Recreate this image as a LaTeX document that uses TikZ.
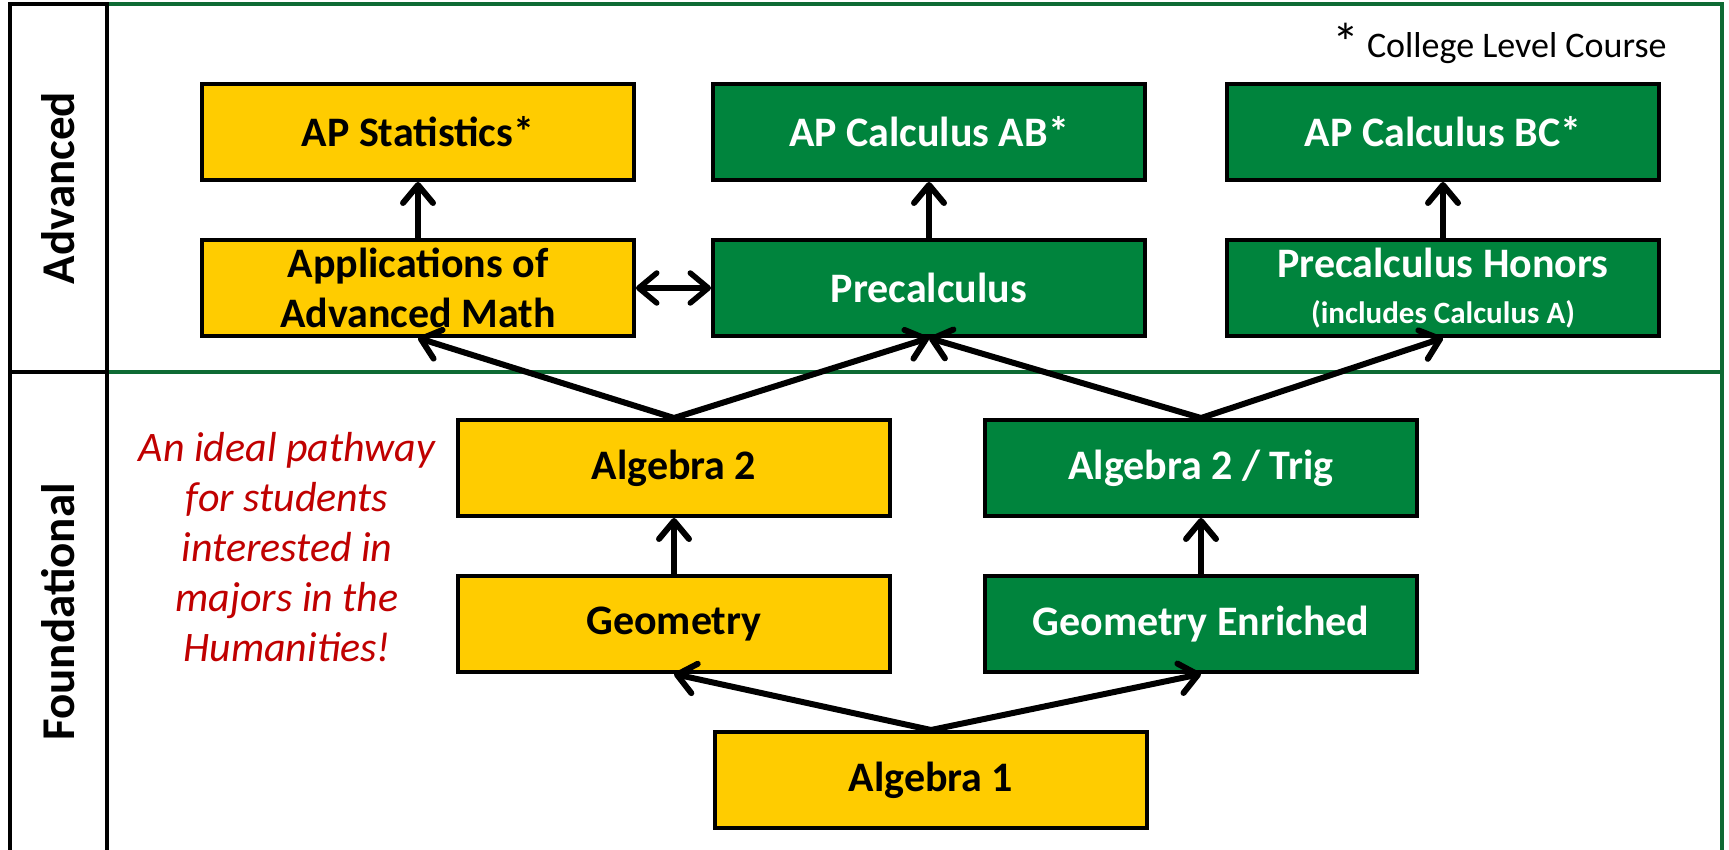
\documentclass[tikz,border=0pt]{standalone}
\usepackage{fontspec}
\setmainfont{Carlito}
\usetikzlibrary{arrows.meta}
\definecolor{gold}{HTML}{FFCC00}
\definecolor{pgreen}{HTML}{00843D}
\definecolor{lgreen}{HTML}{0E6B34}
\definecolor{pred}{HTML}{C00000}
\begin{document}
\begin{tikzpicture}[x=1pt,y=-1pt,
  box/.style={draw=black, line width=4pt, minimum width=432pt, minimum height=96pt,
    inner sep=0pt, font=\fontsize{42}{50}\selectfont\bfseries, align=center},
  ybox/.style={box, fill=gold, text=black},
  gbox/.style={box, fill=pgreen, text=white},
  tip/.tip={Straight Barb[length=18pt,width=30pt,line cap=round,line join=round]},
  arr/.style={line width=6pt, line cap=round, -tip},
  darr/.style={line width=5.5pt, line cap=round, tip-tip},
  blk/.style={line width=4pt, black},
  grn/.style={line width=4pt, lgreen},
  lane/.style={rotate=90, font=\fontsize{47}{50}\selectfont\bfseries}]
\useasboundingbox (0,0) rectangle (1729,850);
\fill[white] (0,0) rectangle (1729,850);
% frame
\coordinate (c1) at (10,852);
\coordinate (c2) at (10,4);
\coordinate (c3) at (107,4);
\coordinate (c4) at (107,852);
\coordinate (c5) at (10,372);
\coordinate (c6) at (107,372);
\coordinate (c7) at (1722,4);
\coordinate (c8) at (1722,852);
\coordinate (c9) at (1722,372);
\draw[grn] (c3) -- (c7) -- (c8);
\draw[grn] (c6) -- (c9);
\draw[blk] (c1) -- (c2) -- (c3) -- (c4);
\draw[blk] (c5) -- (c6);
% lane labels
\node[lane] (adv) at (58,188) {Advanced};
\node[lane] (fnd) at (58,612) {Foundational};
% note
\node[anchor=base east, font=\fontsize{36}{40}\selectfont] (note) at (1670,58)
  {{\fontsize{54}{40}\selectfont\raisebox{-4pt}{*}} College Level Course};
\node[font=\fontsize{42}{50}\selectfont\itshape, text=pred, align=center] (hum) at (287,547)
  {An ideal pathway\\for students\\interested in\\majors in the\\Humanities!};
% boxes
\node[ybox] (apstat) at (418,132) {AP Statistics*};
\node[gbox] (apab) at (929,132) {AP Calculus AB*};
\node[gbox] (apbc) at (1443,132) {AP Calculus BC*};
\node[ybox] (apps) at (418,288) {Applications of\\Advanced Math};
\node[gbox] (pre) at (929,288) {Precalculus};
\node[gbox] (preh) at (1443,288) {Precalculus Honors\\[-4pt]{\fontsize{31}{36}\selectfont (includes Calculus A)}};
\node[ybox] (alg2) at (674,468) {Algebra 2};
\node[gbox] (trig) at (1201,468) {Algebra 2 / Trig};
\node[ybox] (geo) at (674,624) {Geometry};
\node[gbox] (geoe) at (1201,624) {Geometry Enriched};
\node[ybox] (alg1) at (931,780) {Algebra 1};
% arrows
\draw[arr] (apps.north) -- (apstat.south);
\draw[arr] (pre.north) -- (apab.south);
\draw[arr] (preh.north) -- (apbc.south);
\draw[darr] (apps.east) -- (pre.west);
\draw[arr] (alg2.north) -- (apps.south);
\draw[arr] (alg2.north) -- (pre.south);
\draw[arr] (trig.north) -- (pre.south);
\draw[arr] (trig.north) -- (preh.south);
\draw[arr] (geo.north) -- (alg2.south);
\draw[arr] (geoe.north) -- (trig.south);
\draw[arr] (alg1.north) -- (geo.south);
\draw[arr] (alg1.north) -- (geoe.south);
\end{tikzpicture}
\end{document}
